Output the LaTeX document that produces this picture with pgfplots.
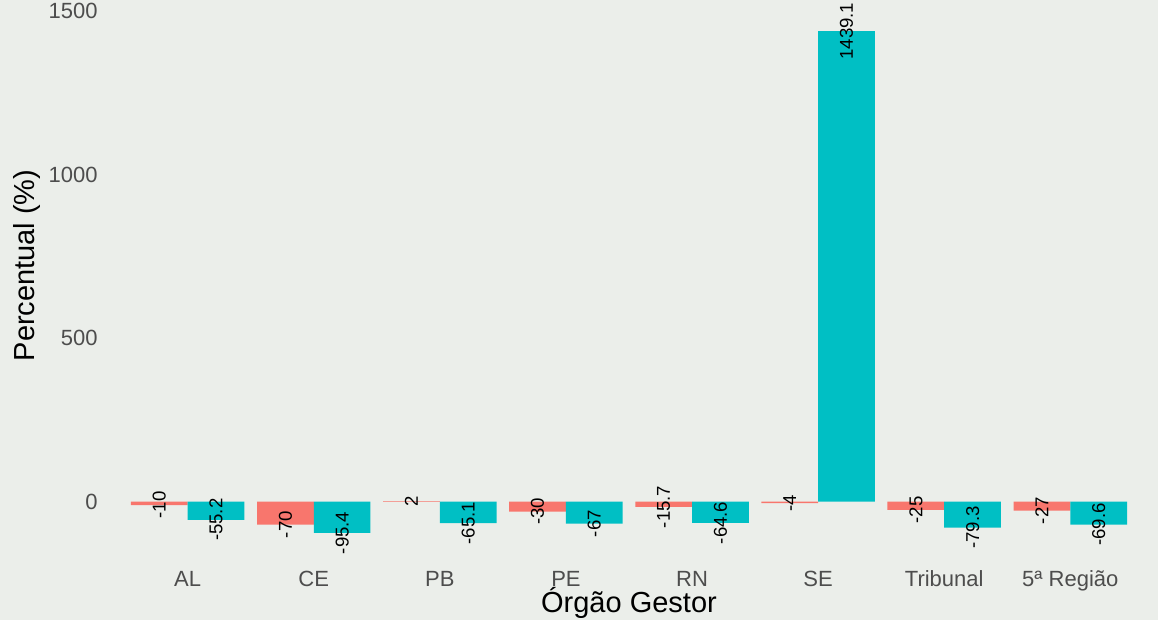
\documentclass[border=0pt]{standalone}
\usepackage{fontspec}
\setmainfont{Liberation Sans}
\usepackage{pgfplots}
\pgfplotsset{compat=1.18}
\usepackage{pgfplotstable}
\definecolor{bg}{RGB}{235,238,234}
\definecolor{salmon}{HTML}{F8766D}
\definecolor{teal2}{HTML}{00BFC4}
\definecolor{tickgray}{HTML}{4D4D4D}

\pgfplotstableread{
x y lab
0.775 -10 -10
1.775 -70 -70
2.775 2 2
3.775 -30 -30
4.775 -15.7 -15.7
5.775 -4 -4
6.775 -25 -25
7.775 -27 -27
}\redtab

\pgfplotstableread{
x y lab
1.225 -55.2 -55.2
2.225 -95.4 -95.4
3.225 -65.1 -65.1
4.225 -67 -67
5.225 -64.6 -64.6
6.225 1439.1 1439.1
7.225 -79.3 -79.3
8.225 -69.6 -69.6
}\tealtab

\begin{document}
\begin{tikzpicture}
\path[use as bounding box] (-56pt,-31pt) rectangle (523pt,279pt);
\fill[bg] (-56pt,-31pt) rectangle (523pt,279pt);
\begin{axis}[
 scale only axis, width=517pt, height=276pt,
 xmin=0.4, xmax=8.6, ymin=-172, ymax=1516,
 axis line style={draw=none}, major tick length=0pt,
 xtick={1,2,3,4,5,6,7,8},
 xticklabels={AL,CE,PB,PE,RN,SE,Tribunal,5ª Região},
 ytick={0,500,1000,1500},
 /pgf/number format/assume math mode=true,
 /pgf/number format/1000 sep={},
 ticklabel style={font=\fontsize{11}{13}\selectfont, text=tickgray},
 xticklabel style={anchor=north, inner sep=0pt, yshift=-6pt, text height=8pt},
 yticklabel style={anchor=east, inner sep=0pt, xshift=-7pt},
 xlabel={Órgão Gestor}, ylabel={Percentual (\%)},
 label style={font=\fontsize{14.5}{17}\selectfont},
 xlabel style={at={(axis description cs:0.5,-0.0996)}, anchor=base},
 ylabel style={at={(axis description cs:-0.082,0.53)}, anchor=center},
 clip=false,
 point meta=explicit symbolic,
 nodes near coords,
 nodes near coords style={rotate=90, anchor=center, inner sep=0pt, font=\fontsize{9.3}{10}\selectfont, text=black},
]
\addplot[ybar, bar width=0.45, bar shift=0pt, fill=salmon, draw=none]
  table[x=x, y=y, meta=lab] {\redtab};
\addplot[ybar, bar width=0.45, bar shift=0pt, fill=teal2, draw=none]
  table[x=x, y=y, meta=lab] {\tealtab};
\end{axis}
\end{tikzpicture}
\end{document}
